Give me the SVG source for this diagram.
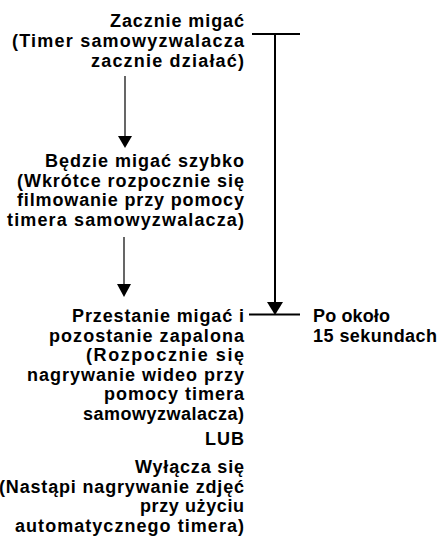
<svg xmlns="http://www.w3.org/2000/svg" width="446" height="538" viewBox="0 0 446 538">
  <style>
    .t { font-family: "Liberation Sans", Arial, Helvetica, sans-serif; font-weight: bold; font-size: 18px; fill: #000; }
    .r { text-anchor: end; }
    .thin { stroke: #000; stroke-width: 1.2; fill: none; }
    .thick { stroke: #000; stroke-width: 2; fill: none; }
    .head { fill: #000; }
  </style>
  <rect width="446" height="538" fill="#fff"/>

  <g id="connectors">
    <!-- step arrows -->
    <line class="thin" x1="125" y1="76" x2="125" y2="138"/>
    <path class="head" d="M118,136 L132,136 L125,148 Z"/>
    <line class="thin" x1="124" y1="237" x2="124" y2="286"/>
    <path class="head" d="M117,284 L131,284 L124,297 Z"/>
    <!-- overall duration bracket -->
    <line class="thick" x1="252" y1="34" x2="300" y2="34"/>
    <line class="thick" x1="275" y1="34" x2="275" y2="304"/>
    <path class="head" d="M267,302 L283,302 L275,315 Z"/>
    <line class="thick" x1="249" y1="314.5" x2="300" y2="314.5"/>
  </g>

  <g id="start">
    <text class="t r" x="244" y="27" textLength="134">Zacznie migać</text>
    <text class="t r" x="244" y="47" textLength="232">(Timer samowyzwalacza</text>
    <text class="t r" x="244" y="67" textLength="153">zacznie działać)</text>
  </g>

  <g id="fast">
    <text class="t r" x="244" y="167" textLength="199">Będzie migać szybko</text>
    <text class="t r" x="244" y="187" textLength="227">(Wkrótce rozpocznie się</text>
    <text class="t r" x="244" y="206" textLength="227">filmowanie przy pomocy</text>
    <text class="t r" x="244" y="226" textLength="237">timera samowyzwalacza)</text>
  </g>

  <g id="steady">
    <text class="t r" x="244" y="322" textLength="172">Przestanie migać i</text>
    <text class="t r" x="244" y="341.5" textLength="195">pozostanie zapalona</text>
    <text class="t r" x="244" y="361" textLength="158">(Rozpocznie się</text>
    <text class="t r" x="244" y="380.5" textLength="217">nagrywanie wideo przy</text>
    <text class="t r" x="244" y="400" textLength="140">pomocy timera</text>
    <text class="t r" x="244" y="419.5" textLength="161">samowyzwalacza)</text>
  </g>

  <g id="or">
    <text class="t r" x="244" y="445" textLength="39">LUB</text>
  </g>

  <g id="off">
    <text class="t r" x="244" y="473" textLength="109">Wyłącza się</text>
    <text class="t r" x="244" y="492.5" textLength="245">(Nastąpi nagrywanie zdjęć</text>
    <text class="t r" x="244" y="512" textLength="104">przy użyciu</text>
    <text class="t r" x="244" y="531.5" textLength="229">automatycznego timera)</text>
  </g>

  <g id="duration">
    <text class="t" x="313" y="322" textLength="77">Po około</text>
    <text class="t" x="313" y="342" textLength="124">15 sekundach</text>
  </g>
</svg>
